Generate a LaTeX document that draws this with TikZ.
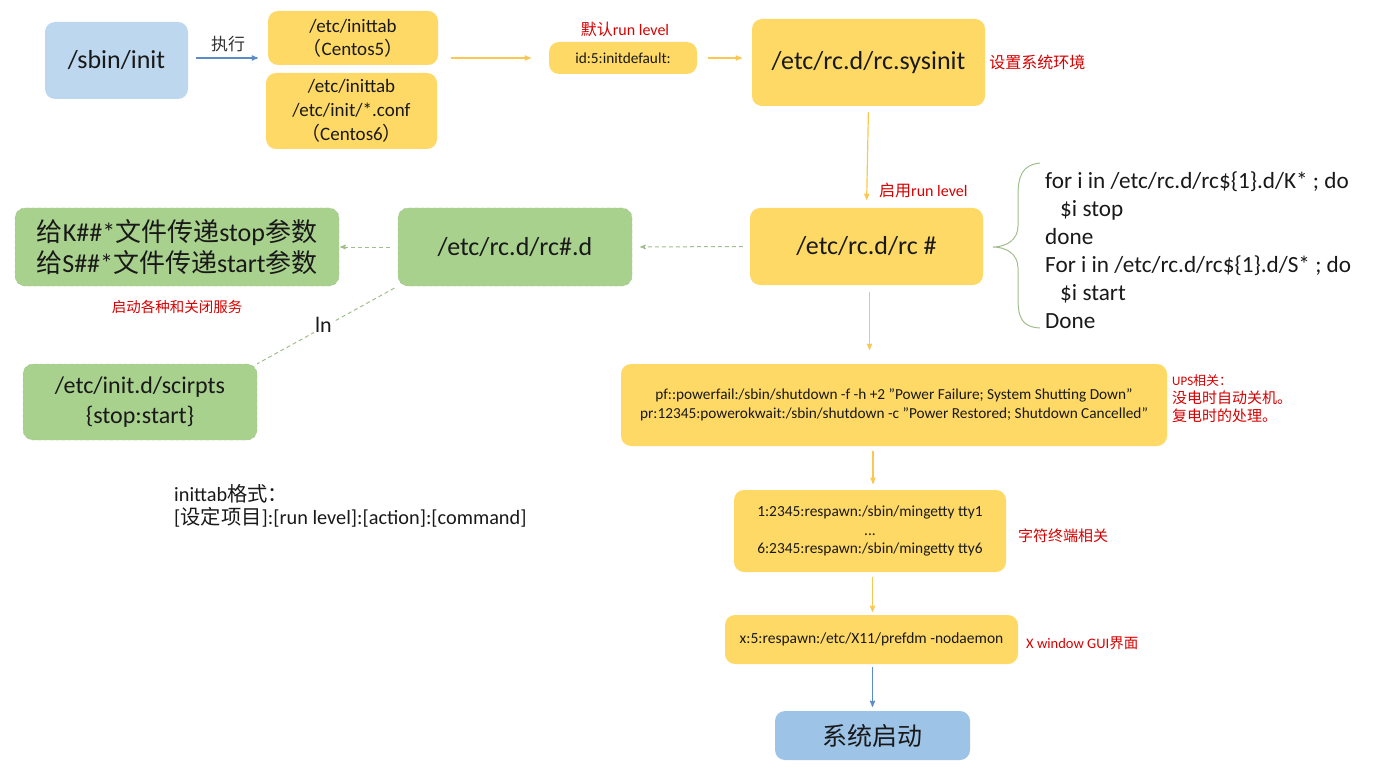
\documentclass[tikz,border=0pt]{standalone}
\usepackage{fontspec}
\setmainfont{Carlito}
\newfontfamily\cjk{Noto Sans CJK SC}
\usepackage{tikz}
\usetikzlibrary{arrows,positioning}
\definecolor{boxyellow}{RGB}{255,217,102}
\definecolor{boxblue}{RGB}{189,215,238}
\definecolor{boxblue2}{RGB}{157,195,230}
\definecolor{boxgreen}{RGB}{169,209,142}
\definecolor{linegreen}{RGB}{160,190,140}
\definecolor{lineyellow}{RGB}{250,200,80}
\definecolor{lineblue}{RGB}{91,140,200}
\definecolor{notered}{RGB}{215,0,0}
\newcommand{\zh}[1]{{\cjk #1}}
\newcommand{\fs}[1]{\fontsize{#1}{1.2\dimexpr#1pt\relax}\selectfont}
\tikzset{
    %Define standard arrow tip
    >=stealth',
    %Define style for boxes
    yellowbox/.style={
           rectangle,
           rounded corners=10pt,
           fill=boxyellow,
           inner sep=0pt,
           align=center,
           text=black!90,
           },
    bluebox/.style={
           rectangle,
           rounded corners=10pt,
           fill=boxblue,
           inner sep=0pt,
           align=center,
           text=black!90,
           },
    greenbox/.style={
           rectangle,
           rounded corners=10pt,
           fill=boxgreen,
           draw=linegreen, dashed,
           inner sep=0pt,
           align=center,
           text=black!90,
           },
    note/.style={
           text=notered,
           inner sep=0pt,
           font=\fs{14.5},
           },
    % Define arrow style
    pil/.style={
           ->,
           line width=1.2pt,
           draw=lineyellow,},
    dpil/.style={
           ->,
           line width=1pt,
           draw=linegreen,
           dash pattern=on 4pt off 3pt,}
}
\begin{document}
\begin{tikzpicture}[x=1pt,y=-1pt]
\useasboundingbox (0,0) rectangle (1386,770);

 %nodes
\node[bluebox, minimum width=143pt, minimum height=77pt, font=\fs{26}](sbin) at (116.5,60.5){/sbin/init};
\node[yellowbox, minimum width=170pt, minimum height=54pt, font=\fs{19}](inittab5) at (353,38){/etc/inittab\\\zh{（}Centos5\zh{）}};
\node[yellowbox, minimum width=171pt, minimum height=76pt, font=\fs{19}](inittab6) at (351.5,111){/etc/inittab\\[1pt]/etc/init/*.conf\\[1pt]\zh{（}Centos6\zh{）}};
\coordinate (inittab) at (438,58);
\node[yellowbox, minimum width=148pt, minimum height=32pt, font=\fs{15.3}](initdefault) at (623,58){id:5:initdefault:};
\node[yellowbox, minimum width=233pt, minimum height=87pt, font=\fs{26}](sysinit) at (868.5,62.5){/etc/rc.d/rc.sysinit};
\node[yellowbox, minimum width=233pt, minimum height=77pt, font=\fs{26}](rc) at (866.5,246.5){/etc/rc.d/rc \#};
\node[greenbox, minimum width=234pt, minimum height=78pt, font=\fs{26}](rcd) at (515,247){/etc/rc.d/rc\#.d};
\node[greenbox, minimum width=324pt, minimum height=78pt, font=\fs{26}](kill) at (177,247){\zh{给}K\#\#*\zh{文件传递}stop\zh{参数}\\[-1pt]\zh{给}S\#\#*\zh{文件传递}start\zh{参数}};
\node[greenbox, minimum width=234pt, minimum height=76pt, font=\fs{24}](scripts) at (140,402){/etc/init.d/scirpts\\[1pt]\{stop:start\}};
\node[yellowbox, minimum width=546pt, minimum height=82pt, font=\fontsize{15.3}{19}\selectfont](ups) at (894,405){pf::powerfail:/sbin/shutdown -f -h +2 "Power Failure; System Shutting Down"\\pr:12345:powerokwait:/sbin/shutdown -c "Power Restored; Shutdown Cancelled"};
\node[yellowbox, minimum width=272pt, minimum height=82pt, font=\fontsize{15.4}{18.5}\selectfont](tty) at (870,531){1:2345:respawn:/sbin/mingetty tty1\\...\\6:2345:respawn:/sbin/mingetty tty6};
\node[yellowbox, minimum width=293pt, minimum height=49pt, font=\fs{15.5}](xwin) at (871.5,639.5){x:5:respawn:/etc/X11/prefdm -nodaemon};
\node[bluebox, fill=boxblue2, minimum width=195pt, minimum height=49pt, font=\fs{25}\cjk](start) at (872.5,735.5){系统启动};

 %script beside rc
\node[anchor=west, align=left, inner sep=0pt, text=black!90, font=\fontsize{23.2}{28}\selectfont](loop) at (1045,250){for i in /etc/rc.d/rc\$\{1\}.d/K* ; do\\\hspace*{15pt}\$i stop\\done\\For i in /etc/rc.d/rc\$\{1\}.d/S* ; do\\\hspace*{15pt}\$i start\\Done};
\coordinate (tip) at (993,247);
\draw[linegreen, line width=1pt] (1040,163) .. controls (1022,165) and (1018,176) .. (1018,196) -- (1018,226) .. controls (1018,240) and (1006,247) .. (tip) .. controls (1006,247) and (1018,254) .. (1018,268) -- (1018,298) .. controls (1018,318) and (1022,327) .. (1040,328);

 %red notes
\node[note, font=\fs{16}](deflabel) at (625,29){\zh{默认}run level};
\node[note, font=\fs{16}, right=4pt of sysinit](envlabel){\zh{设置系统环境}};
\node[note, font=\fs{16}, anchor=west](runlabel) at (879,190){\zh{启用}run level};
\node[note](svclabel) at (177,307){\zh{启动各种和关闭服务}};
\node[note, anchor=north west, align=left, font=\fontsize{15}{18}\selectfont](upslabel) at (1172,374){{\fontsize{13}{18}\selectfont UPS\zh{相关：}}\\\zh{没电时自动关机。}\\\zh{复电时的处理。}};
\node[note, font=\fs{15}, anchor=west](ttylabel) at (1018,536){\zh{字符终端相关}};
\node[note, anchor=west](xlabel) at (1026,643){X window GUI\zh{界面}};

 %format note
\node[anchor=north west, align=left, inner sep=0pt, text=black!90, font=\fontsize{20.3}{23}\selectfont](format) at (174,484){inittab\zh{格式：}\\{}[\zh{设定项目}]:[run level]:[action]:[command]};

 %connectors
\draw[->, line width=1.2pt, lineblue, shorten <=8pt, shorten >=10pt] (sbin.east |- inittab) -- node[above=2pt, font=\fs{17}\cjk, text=black!80]{执行} (inittab5.west |- inittab);
\draw[pil, shorten <=13pt, shorten >=18pt] (inittab) -- (initdefault.west);
\draw[pil, shorten <=11pt, shorten >=10pt] (initdefault.east) -- (initdefault.east -| sysinit.west);
\draw[pil, shorten <=6pt, shorten >=8pt] (sysinit.south) -- (rc.north);
\draw[pil, shorten <=7pt, shorten >=14pt] ([xshift=3pt]rc.south) -- ([xshift=3pt]rc.south |- ups.north);
\draw[pil, shorten <=5pt, shorten >=6pt] ([xshift=3pt]tty.north |- ups.south) -- ([xshift=3pt]tty.north);
\draw[pil, shorten <=5pt, shorten >=3pt] (start.north |- tty.south) -- (start.north |- xwin.north);
\draw[->, line width=1.2pt, lineblue, shorten <=3pt, shorten >=4pt] (start.north |- xwin.south) -- (start.north);
\draw[dpil, shorten <=7pt, shorten >=8pt] (rc.west) -- (rcd.west -| rcd.east);
\draw[dpil, shorten <=8pt, shorten >=1pt] (rcd.west) -- (kill.east);
\draw[linegreen, line width=1pt, dash pattern=on 4pt off 3pt, shorten <=4pt] (rcd.south west) -- node[fill=white, inner sep=1pt, xshift=-4pt, font=\fs{22}, text=black!90]{ln} (scripts.north east);

\end{tikzpicture}
\end{document}
